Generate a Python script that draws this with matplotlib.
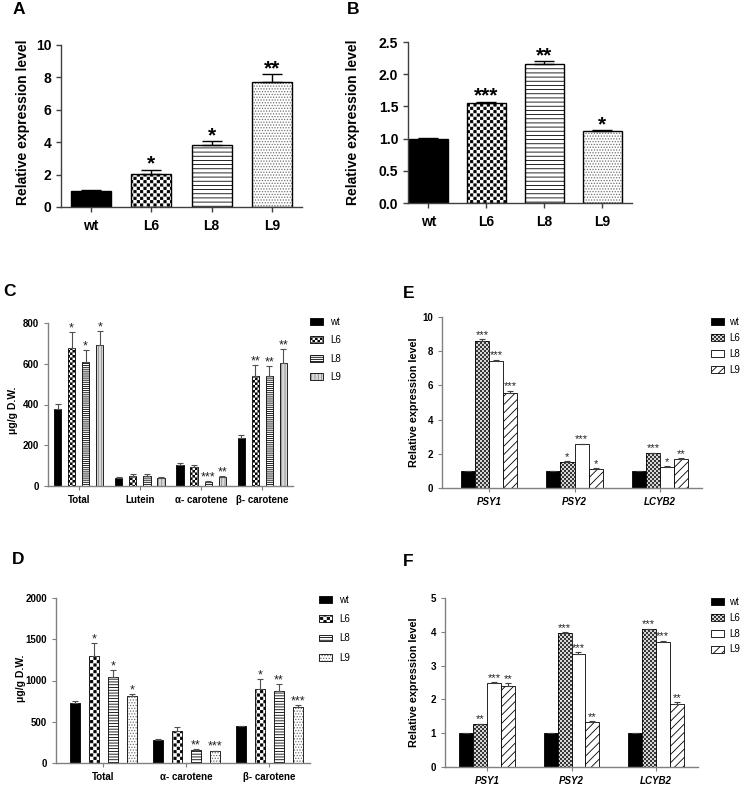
import numpy as np
import matplotlib
matplotlib.use('Agg')
import matplotlib.pyplot as plt
import matplotlib.hatch as mhatch
from matplotlib.path import Path
from matplotlib.patches import Patch
import warnings
warnings.filterwarnings('ignore')

W, H = 748, 787
plt.rcParams['font.family'] = ['Liberation Sans', 'DejaVu Sans']
plt.rcParams['hatch.linewidth'] = 0.6

# ---------------- data ----------------
AB_lines = ['wt', 'L6', 'L8', 'L9']
A_vals = [1.0, 2.05, 3.8, 7.7]
A_err = [0.03, 0.25, 0.27, 0.5]
A_sig = ['', '*', '*', '**']
B_vals = [1.0, 1.56, 2.16, 1.12]
B_err = [0.005, 0.015, 0.04, 0.015]
B_sig = ['', '***', '**', '*']

series = ['wt', 'L6', 'L8', 'L9']

C_cats = ['Total', 'Lutein', 'α- carotene', 'β- carotene']
C_wt = [380, 40, 102, 237]
C_L6 = [677, 48, 92, 538]
C_L8 = [608, 47, 21, 538]
C_L9 = [692, 41, 45, 606]
C_wt_err = [21, 2, 10, 13]
C_L6_err = [79, 13, 9, 55]
C_L8_err = [59, 12, 5, 50]
C_L9_err = [69, 2, 3, 64]
C_L6_sig = ['*', '', '', '**']
C_L8_sig = ['*', '', '***', '**']
C_L9_sig = ['*', '', '**', '**']

D_cats = ['Total', 'α- carotene', 'β- carotene']
D_wt = [731, 283, 448]
D_L6 = [1297, 392, 901]
D_L8 = [1038, 162, 877]
D_L9 = [812, 145, 675]
D_wt_err = [21, 12, 4]
D_L6_err = [158, 48, 117]
D_L8_err = [89, 8, 77]
D_L9_err = [24, 5, 24]
D_L6_sig = ['*', '', '*']
D_L8_sig = ['*', '**', '**']
D_L9_sig = ['*', '***', '***']

E_cats = ['PSY1', 'PSY2', 'LCYB2']
E_wt = [1.0, 1.0, 1.0]
E_L6 = [8.62, 1.50, 2.03]
E_L8 = [7.45, 2.55, 1.25]
E_L9 = [5.58, 1.13, 1.70]
E_wt_err = [0.02, 0.02, 0.02]
E_L6_err = [0.09, 0.06, 0.03]
E_L8_err = [0.05, 0.04, 0.02]
E_L9_err = [0.11, 0.04, 0.03]
E_L6_sig = ['***', '*', '***']
E_L8_sig = ['***', '***', '*']
E_L9_sig = ['***', '*', '**']

F_cats = ['PSY1', 'PSY2', 'LCYB2']
F_wt = [1.0, 1.0, 1.0]
F_L6 = [1.26, 3.96, 4.07]
F_L8 = [2.48, 3.34, 3.69]
F_L9 = [2.40, 1.32, 1.85]
F_wt_err = [0.02, 0.02, 0.02]
F_L6_err = [0.02, 0.02, 0.02]
F_L8_err = [0.03, 0.06, 0.05]
F_L9_err = [0.08, 0.03, 0.06]
F_L6_sig = ['**', '***', '***']
F_L8_sig = ['***', '***', '***']
F_L9_sig = ['**', '**', '**']


# ---------------- custom checkerboard hatch ----------------
class CheckerHatch(mhatch.HatchPatternBase):
    def __init__(self, hatch, density):
        k = hatch.count('c')
        n = k * 10
        if n % 2:
            n += 1
        self.n = n
        self.num_vertices = (n * n // 2) * 5 if k else 0

    def set_vertices_and_codes(self, vertices, codes):
        n = self.n
        s = 1.0 / n
        m = 0.16 * s
        idx = 0
        for i in range(n):
            for j in range(n):
                if (i + j) % 2 == 0:
                    x0, y0 = i * s + m, j * s + m
                    x1, y1 = (i + 1) * s - m, (j + 1) * s - m
                    vertices[idx:idx + 5] = [(x0, y0), (x1, y0), (x1, y1), (x0, y1), (x0, y0)]
                    codes[idx:idx + 5] = [Path.MOVETO, Path.LINETO, Path.LINETO,
                                          Path.LINETO, Path.CLOSEPOLY]
                    idx += 5


mhatch._hatch_types.append(CheckerHatch)

fig = plt.figure(figsize=(W / 100, H / 100), dpi=100)


def make_ax(l, t, r, b):
    return fig.add_axes([l / W, 1 - b / H, (r - l) / W, (b - t) / H])


def style_ax(ax, spine_color, tick_fs, weight='bold'):
    for s in ['top', 'right']:
        ax.spines[s].set_visible(False)
    for s in ['left', 'bottom']:
        ax.spines[s].set_color(spine_color)
        ax.spines[s].set_linewidth(1.0)
    ax.tick_params(axis='both', colors=spine_color, labelcolor='black',
                   labelsize=tick_fs, length=3.5, width=1.0)
    for lab in ax.get_yticklabels():
        lab.set_fontweight(weight)


def draw_bars(ax, x, h, w, st, lw):
    face, hc, hatch = st
    if hatch and hc != 'k':
        ax.bar(x, h, w, color=face, edgecolor=hc, linewidth=0, hatch=hatch)
        ax.bar(x, h, w, fill=False, edgecolor='k', linewidth=lw)
    else:
        ax.bar(x, h, w, color=face, edgecolor='k', linewidth=lw, hatch=hatch)


def handle(st, lw):
    face, hc, hatch = st
    if hatch and hc != 'k':
        return (Patch(facecolor=face, edgecolor=hc, linewidth=0, hatch=hatch),
                Patch(fill=False, edgecolor='k', linewidth=lw))
    return Patch(facecolor=face, edgecolor='k', linewidth=lw, hatch=hatch)


def stars(ax, xs, tops, sigs, fs, weight, dy, color='k'):
    for x, t, s in zip(xs, tops, sigs):
        if s:
            ax.annotate(s, (x, t), xytext=(0, dy), textcoords='offset points',
                        ha='center', va='baseline', fontsize=fs,
                        fontweight=weight, color=color)


def panel_letter(txt, x, y):
    fig.text(x / W, 1 - y / H, txt, fontsize=12.5, fontweight='bold',
             ha='center', va='center')


# ---------------- Panel A / B ----------------
AB_styles = [('k', 'k', None), ('white', 'k', 'ccc'), ('white', 'k', '----'),
             ('white', '#707070', '......')]


def simple_panel(box, vals, errs, sigs, ylim, yticks, fmt, xlim, width, capsize):
    ax = make_ax(*box)
    x = np.arange(len(vals))
    for i in range(len(vals)):
        draw_bars(ax, x[i], vals[i], width, AB_styles[i], 1.0)
    ax.errorbar(x, vals, yerr=[np.zeros(len(vals)), errs], fmt='none', ecolor='k',
                elinewidth=1.0, capsize=capsize, capthick=1.0)
    ax.set_xlim(*xlim)
    ax.set_ylim(*ylim)
    ax.set_yticks(yticks)
    ax.set_yticklabels([fmt.format(v) for v in yticks])
    ax.set_xticks(x)
    ax.set_xticklabels(AB_lines, fontweight='bold')
    style_ax(ax, '#404040', 10)
    ax.tick_params(axis='x', pad=5)
    tops = [v + e for v, e in zip(vals, errs)]
    stars(ax, x, tops, sigs, 15, 'bold', 0)
    return ax


axA = simple_panel((61, 45, 302, 207), A_vals, A_err, A_sig, (0, 10),
                   [0, 2, 4, 6, 8, 10], '{:g}', (-0.5, 3.5), 0.66, 7)
axA.set_ylabel('Relative expression level', fontsize=10, fontweight='bold', va='center')
axA.yaxis.set_label_coords(23 / W, 1 - 122 / H, transform=fig.transFigure)

axB = simple_panel((408, 42, 632, 203), B_vals, B_err, B_sig, (0, 2.5),
                   [0, 0.5, 1.0, 1.5, 2.0, 2.5], '{:.1f}', (-0.35, 3.51), 0.67, 7)
axB.set_ylabel('Relative expression level', fontsize=10, fontweight='bold', va='center')
axB.yaxis.set_label_coords(353 / W, 1 - 122 / H, transform=fig.transFigure)

panel_letter('A', 19, 10)
panel_letter('B', 353, 10)


# ---------------- grouped panels ----------------
def grouped_panel(box, cats, vals, errs, sigs, styles, ylim, yticks, xlim,
                  pitch, width, capsize, ecolor, star_fs, star_w, star_dy,
                  xlab_style, lw, tick_fs, xlab_fs):
    ax = make_ax(*box)
    g = np.arange(len(cats))
    for k in range(4):
        xs = g + pitch * (k - 1.5)
        for i in range(len(cats)):
            draw_bars(ax, xs[i], vals[k][i], width, styles[k], lw)
        ax.errorbar(xs, vals[k], yerr=[np.zeros(len(cats)), errs[k]], fmt='none',
                    ecolor=ecolor, elinewidth=0.8, capsize=capsize, capthick=0.8)
        if sigs[k] is not None:
            tops = [v + e for v, e in zip(vals[k], errs[k])]
            stars(ax, xs, tops, sigs[k], star_fs, star_w, star_dy, color='#222222')
    ax.set_xlim(*xlim)
    ax.set_ylim(*ylim)
    ax.set_yticks(yticks)
    ax.set_xticks(g)
    ax.set_xticklabels(cats, fontweight='bold', fontstyle=xlab_style, fontsize=xlab_fs)
    style_ax(ax, '#808080', tick_fs)
    ax.tick_params(axis='both', length=3, width=0.8)
    return ax


def add_legend(ax, styles, lw, x, y, fs, spacing, hl, hh, tp=0.7):
    hs = [handle(s, lw) for s in styles]
    ax.legend(hs, series, loc='upper left', bbox_to_anchor=(x / W, 1 - y / H),
              bbox_transform=fig.transFigure, frameon=False, fontsize=fs,
              handlelength=hl, handleheight=hh, labelspacing=spacing,
              handletextpad=tp, borderpad=0, borderaxespad=0)


C_styles = [('k', 'k', None), ('white', 'k', 'cccc'), ('white', 'k', '--------'),
            ('#d9d9d9', '#8a8a8a', '|||||')]
axC = grouped_panel((48, 323, 293, 486), C_cats, [C_wt, C_L6, C_L8, C_L9],
                    [C_wt_err, C_L6_err, C_L8_err, C_L9_err],
                    [None, C_L6_sig, C_L8_sig, C_L9_sig], C_styles,
                    (0, 800), [0, 200, 400, 600, 800], (-0.5, 3.5),
                    0.2295, 0.118, 2, '#505050', 9, 'normal', 0.5, 'normal', 0.6,
                    7, 8)
axC.set_ylabel('μg/g D.W.', fontsize=7.5, fontweight='bold', va='center')
axC.yaxis.set_label_coords(13 / W, 1 - 410 / H, transform=fig.transFigure)
add_legend(axC, C_styles, 0.6, 310, 317, 7, 0.85, 1.35, 0.7)
panel_letter('C', 9, 292)

D_styles = [('k', 'k', None), ('white', 'k', 'ccc'), ('white', 'k', '------'),
            ('white', '#707070', '......')]
axD = grouped_panel((56, 598, 310, 763), D_cats, [D_wt, D_L6, D_L8, D_L9],
                    [D_wt_err, D_L6_err, D_L8_err, D_L9_err],
                    [None, D_L6_sig, D_L8_sig, D_L9_sig], D_styles,
                    (0, 2000), [0, 500, 1000, 1500, 2000], (-0.57, 2.49),
                    0.229, 0.12, 2, '#505050', 9, 'normal', 0.5, 'normal', 0.6,
                    7, 8)
axD.set_ylabel('μg/g D.W.', fontsize=7.5, fontweight='bold', va='center')
axD.yaxis.set_label_coords(21 / W, 1 - 678 / H, transform=fig.transFigure)
add_legend(axD, D_styles, 0.6, 319, 595, 7, 0.95, 1.35, 0.7)
panel_letter('D', 18, 559)

EF_styles = [('k', 'k', None), ('white', '#303030', 'ccccc'), ('white', 'k', None),
             ('white', 'k', '////')]
axE = grouped_panel((442, 317, 702, 488), E_cats, [E_wt, E_L6, E_L8, E_L9],
                    [E_wt_err, E_L6_err, E_L8_err, E_L9_err],
                    [None, E_L6_sig, E_L8_sig, E_L9_sig], EF_styles,
                    (0, 10), [0, 2, 4, 6, 8, 10], (-0.55, 2.49),
                    0.166, 0.166, 2, '#404040', 8, 'normal', 1.0, 'italic', 0.6,
                    7, 8.5)
axE.set_ylabel('Relative expression level', fontsize=7.8, fontweight='bold', va='center')
axE.yaxis.set_label_coords(414 / W, 1 - 402 / H, transform=fig.transFigure)
add_legend(axE, EF_styles, 0.6, 711, 317, 7, 0.6, 1.35, 0.7, tp=0.5)
panel_letter('E', 409, 293)

axF = grouped_panel((445, 598, 698, 767), F_cats, [F_wt, F_L6, F_L8, F_L9],
                    [F_wt_err, F_L6_err, F_L8_err, F_L9_err],
                    [None, F_L6_sig, F_L8_sig, F_L9_sig], EF_styles,
                    (0, 5), [0, 1, 2, 3, 4, 5], (-0.5, 2.5),
                    0.166, 0.166, 2, '#404040', 8, 'normal', 1.0, 'italic', 0.6,
                    7, 8.5)
axF.set_ylabel('Relative expression level', fontsize=7.8, fontweight='bold', va='center')
axF.yaxis.set_label_coords(414 / W, 1 - 682 / H, transform=fig.transFigure)
add_legend(axF, EF_styles, 0.6, 711, 597, 7, 0.6, 1.35, 0.7, tp=0.5)
panel_letter('F', 408, 562)

fig.savefig('out.png', dpi=100)
